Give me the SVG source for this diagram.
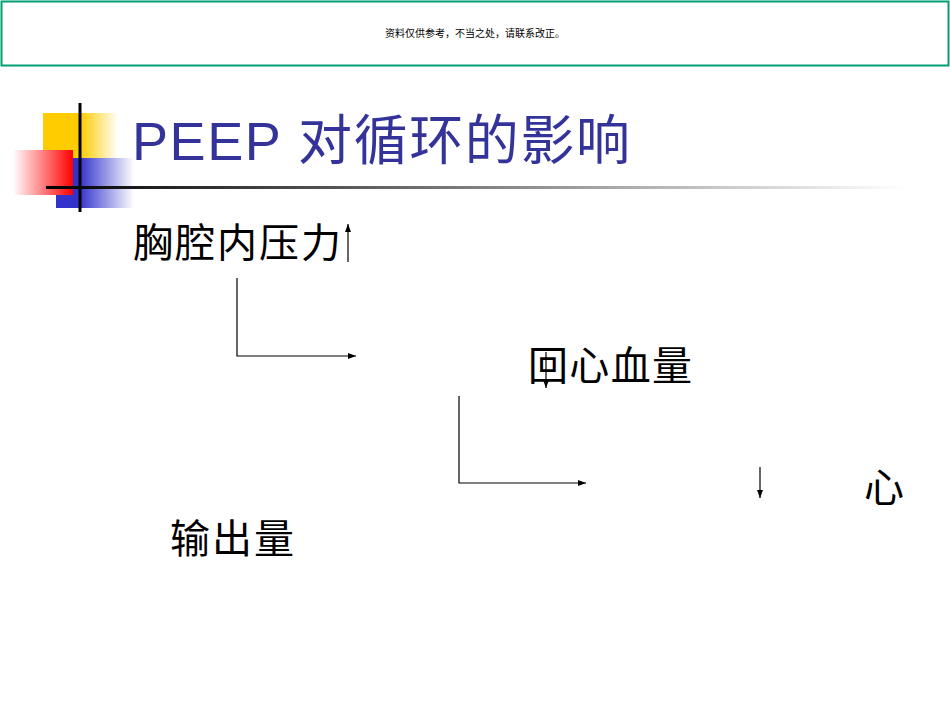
<svg xmlns="http://www.w3.org/2000/svg" width="950" height="713" viewBox="0 0 950 713">
<style>
.cjk{font-family:"Liberation Serif","Noto Sans CJK SC",serif;fill:#000;font-size:40px}
.ln{stroke:#000;stroke-width:1.2;fill:none}
</style>
<defs>
<linearGradient id="gy"><stop offset="0.5" stop-color="#ffcc00"/><stop offset="1" stop-color="#fff"/></linearGradient>
<linearGradient id="gr"><stop offset="0" stop-color="#fff"/><stop offset="1" stop-color="#ff0000"/></linearGradient>
<linearGradient id="gb"><stop offset="0.3" stop-color="#3333cc"/><stop offset="1" stop-color="#fff"/></linearGradient>
<linearGradient id="gl"><stop offset="0" stop-color="#000"/><stop offset="1" stop-color="#fff"/></linearGradient>
<marker id="ah" markerWidth="8" markerHeight="6" refX="8" refY="3" orient="auto" markerUnits="userSpaceOnUse"><path d="M0,0L8,3L0,6z" fill="#000"/></marker>
</defs>
<rect width="950" height="713" fill="#fff"/>
<g id="banner">
<rect x="1.5" y="1.5" width="947" height="64" fill="none" stroke="#00a070" stroke-width="2"/>
<text x="475" y="37" text-anchor="middle" font-family="Noto Sans CJK SC,sans-serif" font-size="10" fill="#000">资料仅供参考，不当之处，请联系改正。</text>
</g>
<g id="deco">
<rect x="43" y="113" width="75" height="48" fill="url(#gy)"/>
<rect x="56" y="158" width="78" height="50" fill="url(#gb)"/>
<rect x="13" y="150" width="60" height="45" fill="url(#gr)"/>
<line x1="80" y1="103" x2="80" y2="212" stroke="#000" stroke-width="3"/>
<rect x="46" y="186" width="860" height="3" fill="url(#gl)"/>
</g>
<g id="title"><text x="132" y="160" font-family="Liberation Sans,Noto Sans CJK SC,sans-serif" font-size="54" fill="#333399" textLength="498" lengthAdjust="spacing">PEEP 对循环的影响</text></g>
<g id="n1"><text class="cjk" x="133" y="257" textLength="208" lengthAdjust="spacing">胸腔内压力</text></g>
<g id="n2"><text class="cjk" x="528" y="380" textLength="164" lengthAdjust="spacing">回心血量</text></g>
<g id="n3"><text class="cjk" x="864" y="502">心</text></g>
<g id="n4"><text class="cjk" x="170" y="553" textLength="124" lengthAdjust="spacing">输出量</text></g>
<g id="connectors">
<line class="ln" x1="348" y1="262" x2="348" y2="224" marker-end="url(#ah)"/>
<polyline class="ln" points="237,278 237,356 356,356" marker-end="url(#ah)"/>
<line class="ln" x1="546" y1="352" x2="546" y2="388" marker-end="url(#ah)"/>
<polyline class="ln" points="459,396 459,483 586,483" marker-end="url(#ah)"/>
<line class="ln" x1="760" y1="467" x2="760" y2="498" marker-end="url(#ah)"/>
</g>
</svg>
